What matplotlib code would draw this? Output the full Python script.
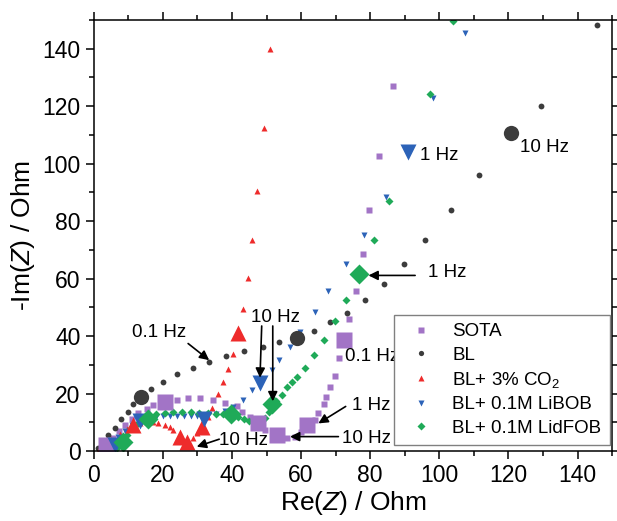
import numpy as np
import matplotlib
matplotlib.use("Agg")
import matplotlib.pyplot as plt
from matplotlib.ticker import MultipleLocator

plt.rcParams['font.family'] = ['Liberation Sans', 'DejaVu Sans']
plt.rcParams['mathtext.fontset'] = 'custom'
plt.rcParams['mathtext.rm'] = 'Liberation Sans'
plt.rcParams['mathtext.it'] = 'Liberation Sans:italic'

# --- data (Re(Z), -Im(Z)) in Ohm ---
labels = ["SOTA", "BL", "BL+ 3% CO$_2$", "BL+ 0.1M LiBOB", "BL+ 0.1M LidFOB"]

sota_re = [3.2, 5.5, 7.2, 9.0, 11.0, 12.8, 15.3, 17.2, 24.0, 27.3, 30.7, 34.6, 38.0, 41.4, 42.8,
           45.2, 49.6, 55.8, 58.3, 60.0, 64.0, 65.0, 66.5, 67.1, 68.4, 69.9, 71.1, 74.0, 75.9,
           77.9, 79.7, 82.6, 86.7]
sota_im = [2.1, 4.5, 6.8, 9.0, 11.0, 13.1, 14.5, 16.0, 17.7, 18.3, 18.3, 17.7, 16.8, 15.5, 13.7,
           11.9, 7.3, 4.6, 5.0, 6.5, 10.8, 13.1, 16.5, 18.9, 22.3, 26.2, 32.2, 46.0, 55.7,
           68.4, 84.0, 102.8, 127.0]
sota_big_re = [3.5, 20.6, 47.6, 53.0, 61.8, 72.3]
sota_big_im = [2.0, 17.1, 9.6, 5.4, 9.0, 38.5]

bl_re = [1.2, 2.7, 4.1, 6.1, 8.0, 9.8, 11.4, 16.6, 19.9, 24.1, 28.6, 33.4, 38.3, 43.6, 48.9, 53.7,
         63.8, 68.4, 73.2, 78.6, 83.9, 89.7, 95.9, 103.3, 111.6, 129.5, 145.7]
bl_im = [0.9, 3.2, 5.6, 7.9, 11.3, 13.6, 16.2, 21.5, 24.1, 26.7, 29.0, 31.1, 33.0, 34.8, 36.2, 38.0,
         41.8, 44.8, 48.0, 52.4, 58.2, 65.2, 73.5, 83.8, 96.2, 120.0, 148.2]
bl_big_re = [13.6, 58.7, 120.8]
bl_big_im = [18.9, 39.3, 110.8]

co2_re = [1.5, 3.0, 5.0, 7.5, 9.5, 13.5, 15.5, 17.0, 18.6, 20.6, 22.0, 23.0, 28.8, 30.0, 33.1,
          34.3, 36.0, 37.5, 38.9, 40.4, 43.3, 44.5, 45.9, 47.3, 49.4, 51.1]
co2_im = [0.5, 2.0, 4.0, 6.0, 7.5, 9.8, 10.2, 10.0, 9.6, 9.0, 8.2, 7.3, 4.4, 6.1, 11.9,
          15.0, 20.0, 24.0, 28.7, 33.9, 49.5, 60.3, 73.5, 90.4, 112.4, 139.8]
co2_big_re = [11.4, 24.9, 26.9, 31.2, 41.8]
co2_big_im = [9.0, 5.0, 3.2, 8.5, 40.9]

libob_re = [3.0, 5.0, 7.0, 9.0, 11.0, 16.0, 18.0, 20.0, 22.0, 24.0, 26.0, 28.0, 30.0, 35.5, 38.0,
            40.4, 43.3, 45.7, 51.5, 53.7, 56.8, 59.7, 64.0, 67.9, 73.0, 78.1, 84.6, 98.3, 107.4]
libob_im = [1.0, 3.0, 5.0, 7.0, 9.0, 11.5, 11.8, 12.0, 12.0, 12.0, 12.0, 12.0, 12.0, 12.8, 14.0,
            15.4, 17.7, 21.2, 28.1, 31.6, 36.2, 41.4, 48.4, 55.7, 65.2, 75.3, 88.5, 123.0, 145.5]
libob_big_re = [6.0, 13.5, 32.0, 48.1, 90.9]
libob_big_im = [2.0, 10.5, 11.0, 23.7, 103.9]

lidfob_re = [6.6, 8.0, 9.5, 10.9, 12.5, 14.0, 18.0, 20.5, 23.0, 25.5, 28.0, 30.5, 33.0, 35.5, 37.5,
             41.8, 43.5, 45.0, 46.5, 48.0, 49.6, 50.6, 52.8, 54.4, 55.8, 57.3, 58.7, 61.2, 63.6,
             66.7, 69.9, 73.0, 81.0, 85.3, 97.4, 104.0]
lidfob_im = [1.0, 3.2, 5.6, 7.9, 9.5, 10.6, 13.0, 13.3, 13.4, 13.4, 13.4, 13.3, 13.2, 13.0, 12.8,
             11.9, 11.1, 10.6, 10.4, 10.6, 11.5, 13.5, 17.5, 19.4, 22.3, 24.0, 25.8, 29.0, 33.3,
             38.5, 45.2, 52.7, 73.3, 86.9, 124.2, 149.7]
lidfob_big_re = [8.5, 15.7, 39.6, 51.5, 76.9]
lidfob_big_im = [3.0, 11.3, 12.7, 16.5, 61.5]

colors = ["#a274c6", "#3c3c3c", "#ee2b2b", "#2c63b8", "#1faa58"]
markers = ["s", "o", "^", "v", "D"]
small_ms = [4.2, 4.2, 4.6, 4.6, 4.0]
big_ms = [11, 11, 12, 12, 10]

small = [(sota_re, sota_im), (bl_re, bl_im), (co2_re, co2_im), (libob_re, libob_im), (lidfob_re, lidfob_im)]
big = [(sota_big_re, sota_big_im), (bl_big_re, bl_big_im), (co2_big_re, co2_big_im),
       (libob_big_re, libob_big_im), (lidfob_big_re, lidfob_big_im)]

fig = plt.figure(figsize=(6.17, 5.21), dpi=100)
ax = fig.add_axes([0.152, 0.1344, 0.840, 0.8272])

for (x, y), c, m, ms, lab in zip(small, colors, markers, small_ms, labels):
    ax.plot(x, y, ls="none", marker=m, color=c, ms=ms, mec="none", label=lab)
for (x, y), c, m, ms in zip(big, colors, markers, big_ms):
    ax.plot(x, y, ls="none", marker=m, color=c, ms=ms, mec="none")

ax.set_xlim(0, 150)
ax.set_ylim(0, 150)
ax.xaxis.set_major_locator(MultipleLocator(20))
ax.xaxis.set_minor_locator(MultipleLocator(10))
ax.yaxis.set_major_locator(MultipleLocator(20))
ax.yaxis.set_minor_locator(MultipleLocator(10))
ax.tick_params(which="both", direction="out", top=True, right=True, labelsize=16.5, width=1.1)
ax.tick_params(which="major", length=6)
ax.tick_params(which="minor", length=3.5)
for s in ax.spines.values():
    s.set_linewidth(1.1)

ax.set_xlabel("Re($Z$) / Ohm", fontsize=19, labelpad=1)
ax.set_ylabel("-Im($Z$) / Ohm", fontsize=19, labelpad=4)

# frequency labels
fs = 13.5
arr = dict(arrowstyle="-|>", color="black", lw=1.2, mutation_scale=14, shrinkA=0, shrinkB=0)
ax.text(18.8, 41.3, "0.1 Hz", fontsize=fs, ha="center", va="center")
ax.annotate("", xy=(33.4, 31.6), xytext=(27.3, 37.4), arrowprops=arr)
ax.text(52.5, 46.5, "10 Hz", fontsize=fs, ha="center", va="center")
ax.annotate("", xy=(48.1, 25.5), xytext=(48.6, 43.5), arrowprops=arr)
ax.annotate("", xy=(51.8, 17.3), xytext=(51.8, 43.5), arrowprops=arr)
ax.text(80.6, 33.0, "0.1 Hz", fontsize=fs, ha="center", va="center")
ax.text(80.3, 16.0, "1 Hz", fontsize=fs, ha="center", va="center")
ax.annotate("", xy=(65.0, 9.6), xytext=(72.9, 15.5), arrowprops=arr)
ax.text(78.8, 4.5, "10 Hz", fontsize=fs, ha="center", va="center")
ax.annotate("", xy=(56.8, 5.0), xytext=(70.8, 5.0), arrowprops=arr)
ax.text(43.3, 3.8, "10 Hz", fontsize=fs, ha="center", va="center")
ax.annotate("", xy=(29.8, 1.5), xytext=(36.3, 4.1), arrowprops=arr)
ax.text(100.0, 103.0, "1 Hz", fontsize=fs, ha="center", va="center")
ax.text(130.4, 105.6, "10 Hz", fontsize=fs, ha="center", va="center")
ax.text(102.3, 62.2, "1 Hz", fontsize=fs, ha="center", va="center")
ax.annotate("", xy=(79.5, 61.1), xytext=(93.0, 61.1), arrowprops=arr)

leg = ax.legend(loc="lower right", bbox_to_anchor=(0.996, 0.014), borderaxespad=0, fontsize=13.5,
                frameon=True, fancybox=False, framealpha=1, edgecolor="#808080", labelspacing=0.33,
                handletextpad=0.75, borderpad=0.45, handlelength=1.9, markerscale=0.9)
leg.get_frame().set_linewidth(1.0)

fig.savefig("out.png", dpi=100)
